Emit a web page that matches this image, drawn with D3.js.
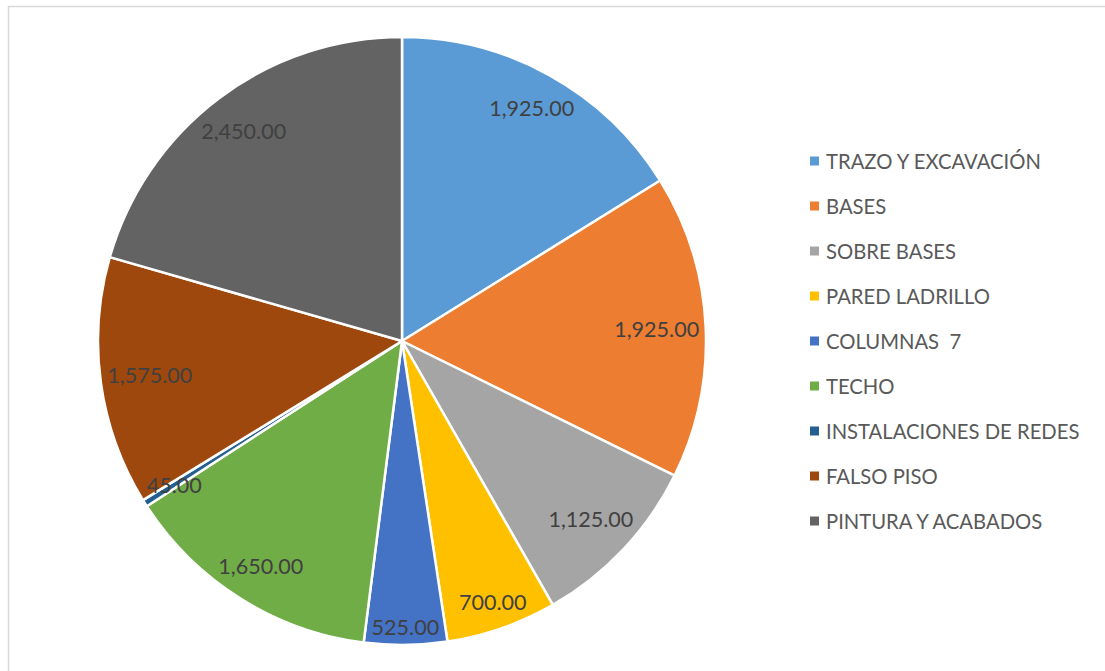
<!DOCTYPE html>
<html><head><meta charset="utf-8">
<script src="https://cdn.jsdelivr.net/npm/d3@7"></script>
<style>body{margin:0;background:#fff}svg{display:block}text{white-space:pre}</style>
</head><body>
<svg id="c" width="1105" height="671"></svg>
<script>
const categories = ["TRAZO Y EXCAVACIÓN","BASES","SOBRE BASES","PARED LADRILLO","COLUMNAS  7","TECHO","INSTALACIONES DE REDES","FALSO PISO","PINTURA Y ACABADOS"];
const values = [1925,1925,1125,700,525,1650,45,1575,2450];
const colors = ["#5B9BD5","#ED7D31","#A5A5A5","#FFC000","#4472C4","#70AD47","#255E91","#9E480E","#636363"];

const svg = d3.select("#c");
const FONT = "Lato, 'Open Sans', sans-serif";
svg.append("rect").attr("x",8.5).attr("y",6.5).attr("width",1110).attr("height",680)
  .attr("fill","#fff").attr("stroke","#d9d9d9").attr("stroke-width",1.5);

// fit font size to a target width
function fitSize(str, targetW, base){
  const t = svg.append("text").attr("font-family",FONT).attr("font-size",base).text(str);
  const w = t.node().getComputedTextLength();
  t.remove();
  return base*targetW/w;
}
const labelSize = fitSize("1,925.00", 85, 20);
const legendSize = fitSize("TRAZO Y EXCAVACIÓN", 215, 20);

const cx = 402, cy = 341, R = 304;
const g = svg.append("g").attr("transform",`translate(${cx},${cy})`);
const data = categories.map((c,i)=>({c, v: values[i], col: colors[i]}));
const pie = d3.pie().value(d=>d.v).sort(null);
const arcs = pie(data);
const arc = d3.arc().innerRadius(0).outerRadius(R);
g.selectAll("path").data(arcs).join("path")
  .attr("d",arc).attr("fill",d=>d.data.col)
  .attr("stroke","#fff").attr("stroke-width",2.5).attr("stroke-linejoin","round");

const fmt = d3.format(",.2f");
const lbl = g.selectAll("text.l").data(arcs).join("text")
  .attr("class","l")
  .attr("font-family",FONT).attr("font-size",labelSize).attr("fill","#404040")
  .attr("text-anchor","middle").attr("dominant-baseline","central")
  .text(d=>fmt(d.data.v));
lbl.each(function(d){
  const bb = this.getBBox();
  const hw = bb.width/2, hh = 10;
  const a = (d.startAngle+d.endAngle)/2;
  const sx = Math.sin(a), sy = -Math.cos(a);
  const target = R - 6;
  let lo = 0, hi = R;
  for (let k=0;k<40;k++){
    const m=(lo+hi)/2;
    const px = Math.abs(sx*m)+hw, py = Math.abs(sy*m)+hh;
    if (Math.hypot(px,py) > target) hi=m; else lo=m;
  }
  d3.select(this).attr("x", sx*lo).attr("y", sy*lo);
});

const leg = svg.append("g");
const ly = d3.scalePoint().domain(categories).range([161,521]);
const items = leg.selectAll("g").data(data).join("g")
  .attr("transform",d=>`translate(810,${ly(d.c)})`);
items.append("rect").attr("x",0).attr("y",-4.5).attr("width",9).attr("height",9).attr("fill",d=>d.col);
items.append("text").attr("x",16).attr("y",0).attr("dominant-baseline","central")
  .attr("font-family",FONT).attr("font-size",legendSize).attr("fill","#595959")
  .text(d=>d.c);
</script>
</body></html>
